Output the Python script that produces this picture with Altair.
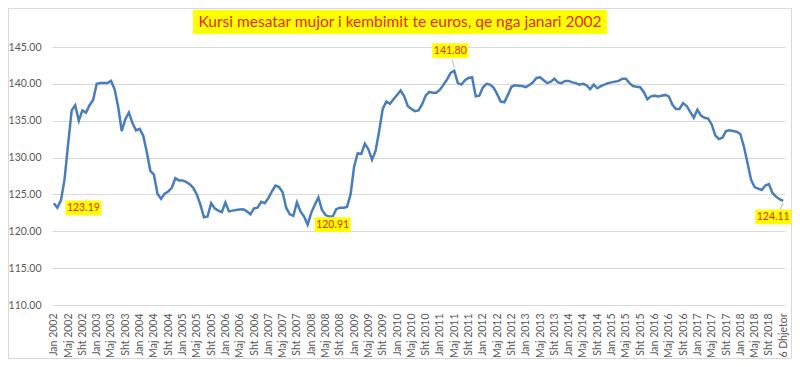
import altair as alt
import pandas as pd

# ---- data -------------------------------------------------------------
month_abbr = ["Jan", "Shk", "Mar", "Pri", "Maj", "Qer", "Kor", "Gsh", "Sht", "Tet", "Nën", "Dhj"]
years = list(range(2002, 2019))
last_label = "6 Dhjetor"
categories = [f"{m} {y}" for y in years for m in month_abbr] + [last_label]

rate_2002 = [123.80, 123.19, 124.20, 127.00, 131.80, 136.40, 137.10, 135.00, 136.40, 136.10, 137.10, 137.80]
rate_2003 = [140.00, 140.10, 140.10, 140.10, 140.40, 139.30, 136.90, 133.60, 135.20, 136.10, 134.70, 133.70]
rate_2004 = [133.90, 133.00, 130.80, 128.20, 127.70, 125.10, 124.40, 125.10, 125.40, 125.90, 127.20, 126.90]
rate_2005 = [126.90, 126.70, 126.40, 125.90, 125.00, 123.60, 121.90, 122.00, 123.80, 123.10, 122.80, 122.60]
rate_2006 = [123.90, 122.70, 122.80, 122.90, 122.95, 123.00, 122.70, 122.30, 123.10, 123.20, 124.00, 123.80]
rate_2007 = [124.50, 125.40, 126.20, 126.00, 125.30, 123.20, 122.30, 122.10, 123.90, 122.70, 122.00, 120.91]
rate_2008 = [122.50, 123.60, 124.60, 122.90, 122.20, 122.00, 122.00, 123.00, 123.20, 123.20, 123.30, 125.00]
rate_2009 = [128.80, 130.60, 130.50, 131.90, 131.10, 129.70, 130.90, 133.60, 136.60, 137.60, 137.30, 137.90]
rate_2010 = [138.50, 139.10, 138.30, 137.00, 136.60, 136.30, 136.40, 137.20, 138.40, 138.90, 138.80, 138.80]
rate_2011 = [139.20, 139.90, 140.60, 141.50, 141.80, 140.10, 139.90, 140.50, 140.80, 140.90, 138.30, 138.40]
rate_2012 = [139.50, 140.00, 139.90, 139.50, 138.60, 137.60, 137.50, 138.50, 139.60, 139.80, 139.75, 139.70]
rate_2013 = [139.55, 139.85, 140.20, 140.80, 140.90, 140.50, 140.10, 140.30, 140.70, 140.20, 140.10, 140.40]
rate_2014 = [140.40, 140.20, 140.10, 139.90, 140.00, 139.80, 139.30, 139.90, 139.40, 139.70, 139.90, 140.10]
rate_2015 = [140.20, 140.30, 140.40, 140.70, 140.70, 140.10, 139.70, 139.60, 139.55, 138.90, 137.90, 138.30]
rate_2016 = [138.40, 138.30, 138.40, 138.50, 138.30, 137.20, 136.60, 136.60, 137.40, 137.00, 136.20, 135.40]
rate_2017 = [136.50, 135.70, 135.40, 135.30, 134.50, 133.00, 132.50, 132.70, 133.60, 133.70, 133.60, 133.50]
rate_2018 = [133.20, 131.50, 129.30, 127.00, 126.00, 125.80, 125.60, 126.20, 126.40, 125.20, 124.70, 124.35]
rate_6_dec = [124.11]

rates = (rate_2002 + rate_2003 + rate_2004 + rate_2005 + rate_2006 + rate_2007 +
         rate_2008 + rate_2009 + rate_2010 + rate_2011 + rate_2012 + rate_2013 +
         rate_2014 + rate_2015 + rate_2016 + rate_2017 + rate_2018 + rate_6_dec)

y_ticks = [110, 115, 120, 125, 130, 135, 140, 145]
x_tick_labels = categories[::4]
labelled_points = [1, 71, 112, 204]
title_text = "Kursi mesatar mujor i kembimit te euros, qe nga janari 2002"

df = pd.DataFrame({"idx": list(range(len(categories))), "cat": categories, "rate": rates})
df["lbl"] = df["rate"].map(lambda v: f"{v:.2f}")

# ---- styling ------------------------------------------------------------
FONT = "Lato"
W, H = 733, 258
LINE_BLUE = "#4A7EBB"
RED = "#E8281A"
YELLOW = "#FFFF00"
GREY_TXT = "#595959"
GRID = "#D9D9D9"

x_axis = alt.Axis(values=x_tick_labels, labelAngle=270, title=None,
                  labelFont=FONT, labelFontSize=10.5, labelColor=GREY_TXT,
                  ticks=False, domain=False, grid=False, labelPadding=8,
                  labelOverlap=False)
y_axis = alt.Axis(values=y_ticks, format=".2f", title=None,
                  labelFont=FONT, labelFontSize=10.5, labelColor=GREY_TXT,
                  ticks=False, tickSize=0, domain=False, grid=True,
                  gridColor=GRID, gridWidth=1, labelPadding=11,
                  labelOverlap=False)
x_scale = alt.Scale(type="point", padding=0.5)
y_scale = alt.Scale(domain=[110, 145], nice=False, zero=False)

x_enc = alt.X("cat:O", sort=categories, scale=x_scale, axis=x_axis)
y_enc = alt.Y("rate:Q", scale=y_scale, axis=y_axis)

line = alt.Chart(df).mark_line(color=LINE_BLUE, strokeWidth=2.5).encode(x=x_enc, y=y_enc)

offsets = {1: (26, 0), 71: (25, 0), 112: (-4, -20), 204: (-10, 16)}
leaders = {112: (-3, -11, -2), 204: (2, 8, -3)}
box_path = "M-1,-0.41L1,-0.41L1,0.41L-1,0.41Z"

label_layers = []
for k in labelled_points:
    dx, dy = offsets[k]
    sub = alt.Chart(df).transform_filter(alt.datum.idx == k)
    if k in leaders:
        yo, y2o, x2o = leaders[k]
        label_layers.append(
            sub.mark_rule(color="#A6A6A6", strokeWidth=0.8, yOffset=yo, y2Offset=y2o, x2Offset=x2o)
            .encode(x=x_enc, x2=alt.X2("cat"), y=y_enc, y2=alt.Y2("rate"))
        )
    label_layers.append(
        sub.mark_point(shape=box_path, size=36 * 36, filled=True, color=YELLOW,
                       opacity=1, strokeWidth=0, xOffset=dx, yOffset=dy)
        .encode(x=x_enc, y=y_enc)
    )
    label_layers.append(
        sub.mark_text(dx=dx, dy=dy, color=RED, font=FONT, fontSize=10.5,
                      align="center", baseline="middle")
        .encode(x=x_enc, y=y_enc, text="lbl:N")
    )

title_df = pd.DataFrame({"t": [title_text]})
title_box = alt.Chart(title_df).mark_rect(color=YELLOW).encode(
    x=alt.value(141), x2=alt.value(555), y=alt.value(-37), y2=alt.value(-13))
title_txt = alt.Chart(title_df).mark_text(color=RED, font=FONT, fontSize=15.5,
                                          align="center", baseline="middle").encode(
    x=alt.value(348), y=alt.value(-25), text="t:N")

border = alt.Chart(title_df).mark_rect(filled=False, stroke=GRID, strokeWidth=1).encode(
    x=alt.value(-43.5), x2=alt.value(739.5), y=alt.value(-38.5), y2=alt.value(311.5))

chart = alt.layer(border, line, *label_layers, title_box, title_txt).properties(
    width=W, height=H,
    autosize=alt.AutoSizeParams(type="none"),
    padding={"left": 44, "top": 39, "right": 7, "bottom": 54},
).configure_view(stroke=None)

chart.save("out.html", embed_options={"renderer": "svg", "actions": False})
